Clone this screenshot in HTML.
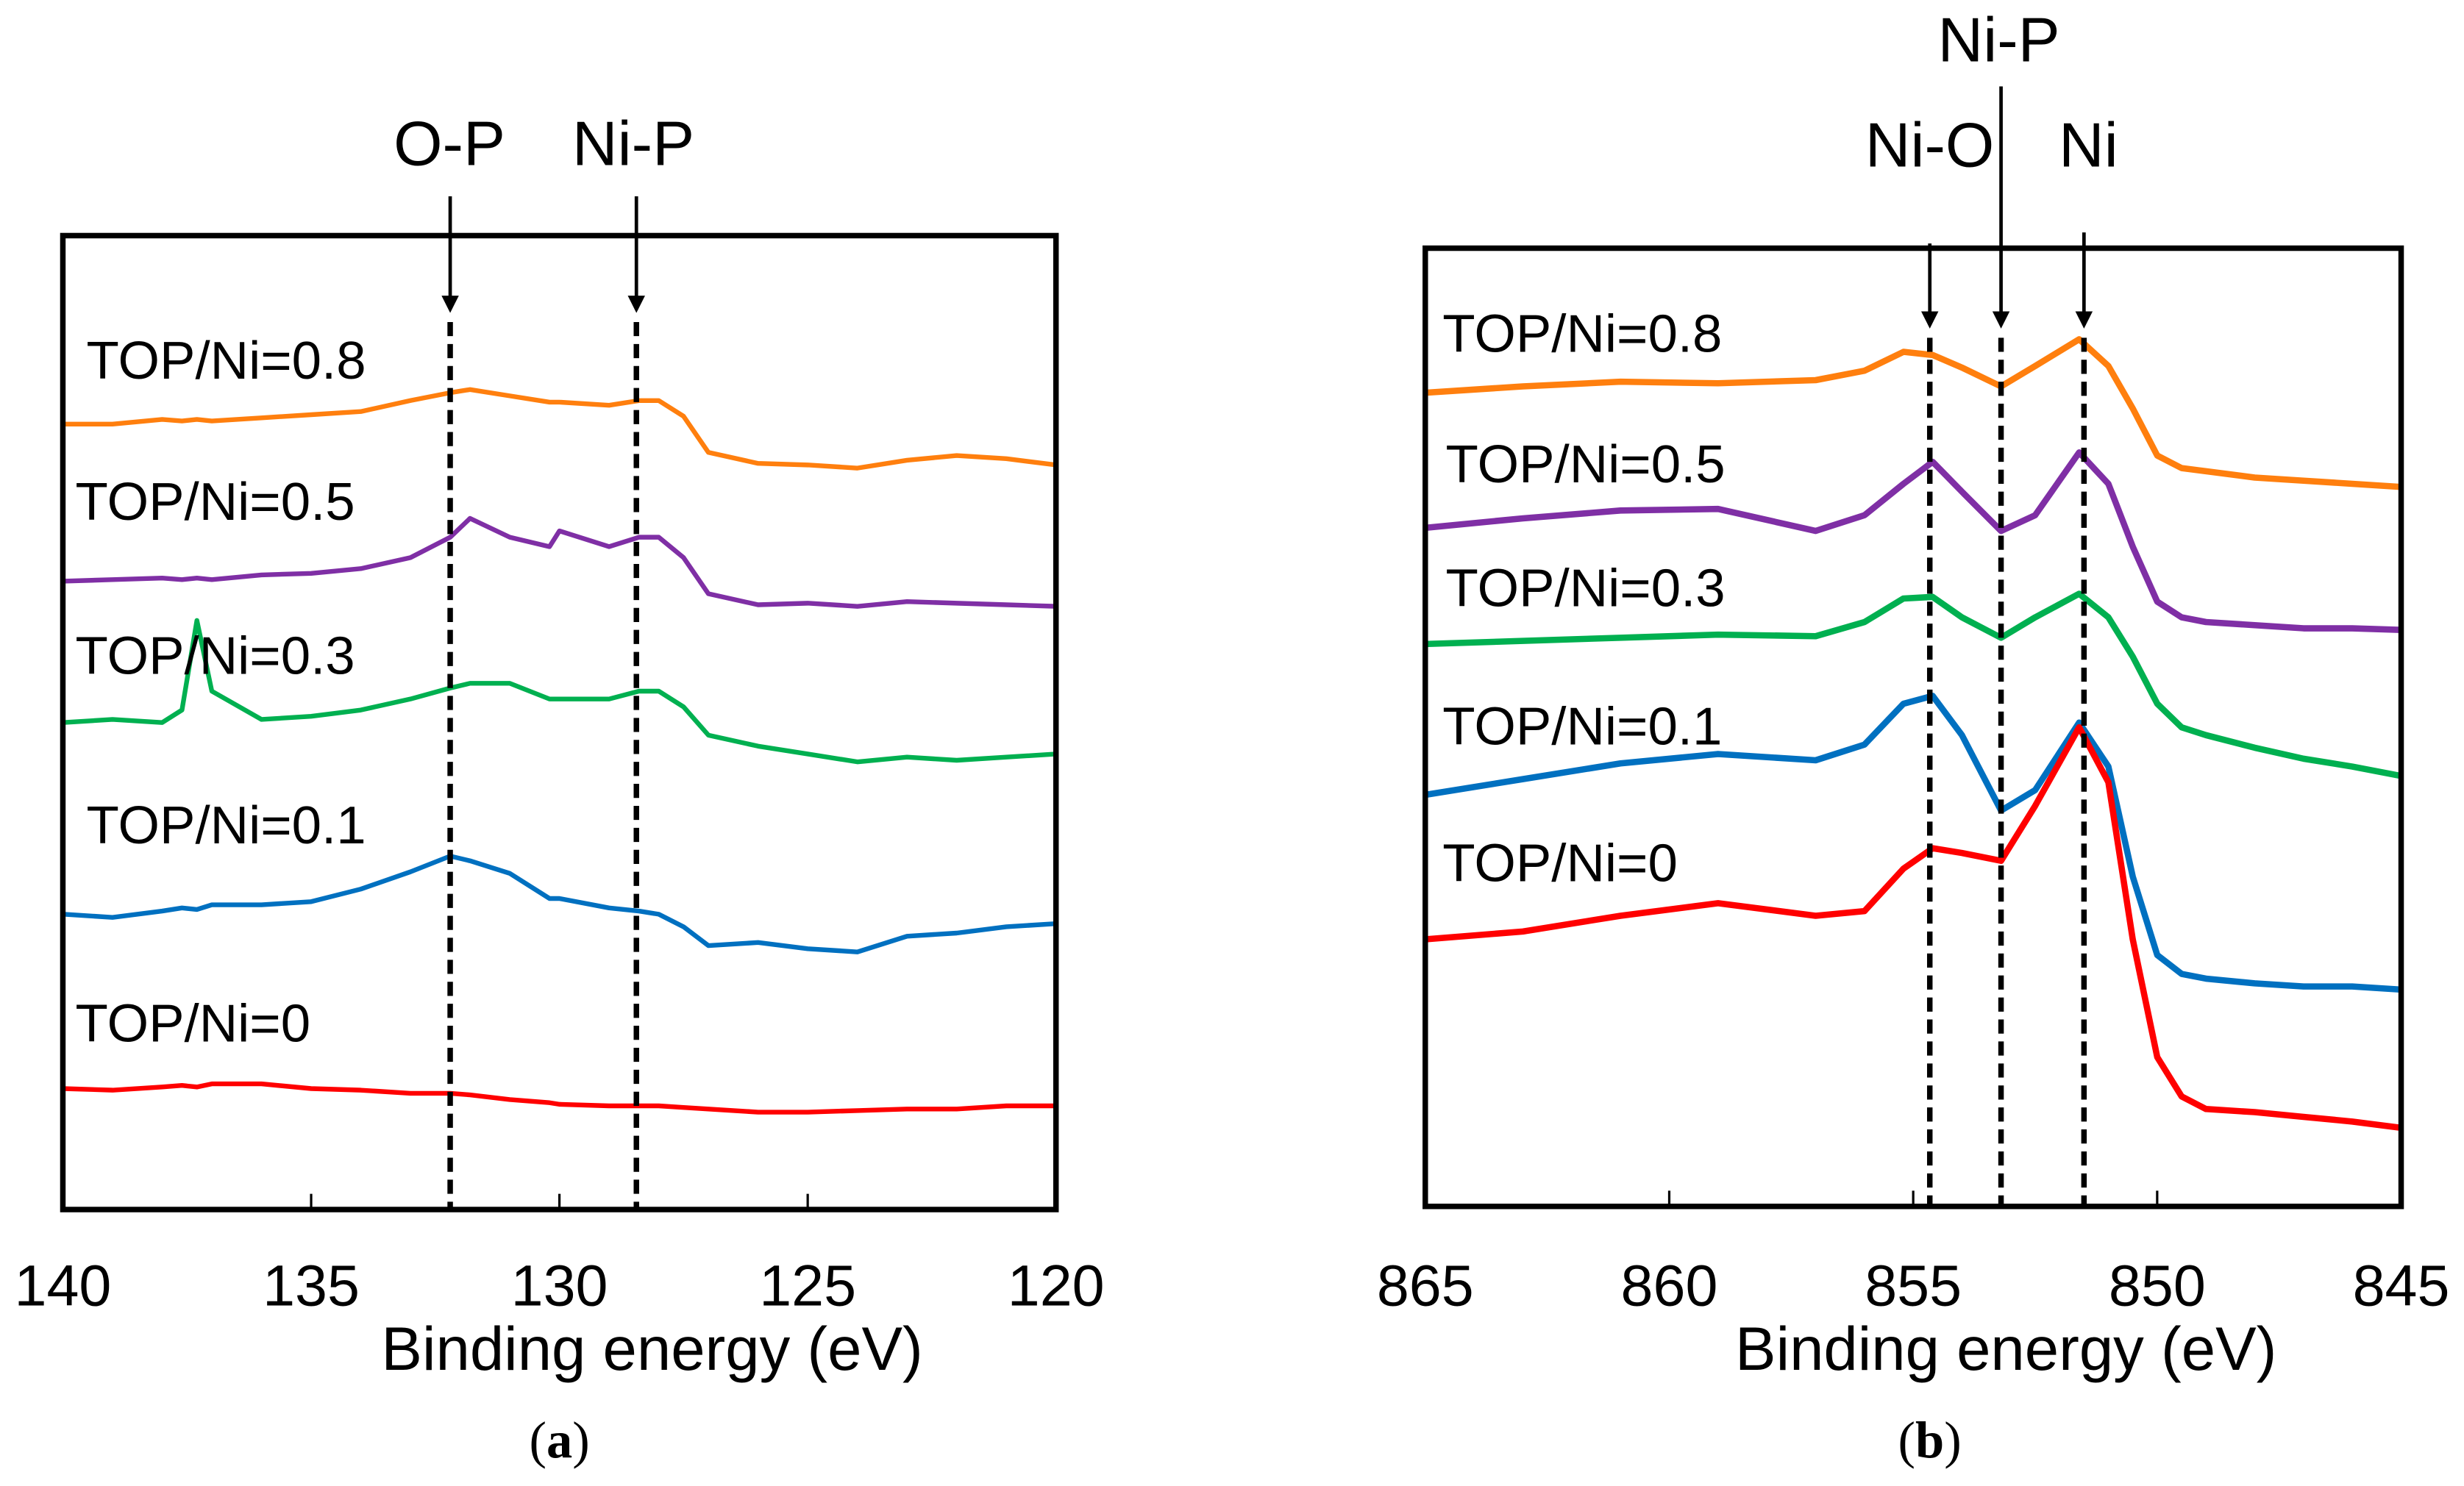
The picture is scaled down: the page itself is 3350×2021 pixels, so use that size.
<!DOCTYPE html>
<html><head><meta charset="utf-8"><style>
html,body{margin:0;padding:0;background:#fff;}
svg{display:block;}
text{font-family:"Liberation Sans",sans-serif;fill:#000;}
</style></head>
<body>
<svg id="fig" width="3350" height="2021" viewBox="0 0 1568 946" preserveAspectRatio="none" xmlns="http://www.w3.org/2000/svg">
<defs><marker id="ah" markerWidth="5" markerHeight="5" refX="4" refY="2.5" orient="auto" markerUnits="strokeWidth"><path d="M0,0 L5,2.5 L0,5 z" fill="#000"/></marker></defs>
<g id="pa"></g>
<g id="pb"></g>
</svg>
<script>
// Panel (a) P 2p
const energiesA = [140,139,138,137.6,137.3,137.0,136,135,134,133,132.2,131.8,131,130.2,130,129,128.4,128,127.5,127,126,125,124,123,122,121,120];
const orangeA = [500,500,503,502,503,502,504,506,508,515,520,522,518,514,514,512,515,515,505,482,475,474,472,477,480,478,474];
const purpleA = [400,401,402,401,402,401,404,405,408,415,428,440,428,422,432,422,428,428,415,392,385,386,384,387,386,385,384];
const greenA  = [310,312,310,318,375,330,312,314,318,325,332,335,335,325,325,325,330,330,320,302,295,290,285,288,286,288,290];
const blueA   = [188,186,190,192,191,194,194,196,204,215,225,222,214,198,198,192,190,188,180,168,170,166,164,174,176,180,182];
const redA    = [77,76,78,79,78,80,80,77,76,74,74,73,70,68,67,66,66,66,65,64,62,62,63,64,64,66,66];
const ticksA = [140,135,130,125,120];
const seriesLabelsA = ["TOP/Ni=0.8","TOP/Ni=0.5","TOP/Ni=0.3","TOP/Ni=0.1","TOP/Ni=0"];
const markersA = ["O-P","Ni-P"];
const markerEA = [132.2,128.45];

// Panel (b) Ni 2p
const energiesB = [865,863,861,859,857,856,855.2,854.6,854,853.2,852.5,851.6,851,850.5,850,849.5,849,848,847,846,845];
const orangeB = [518,522,525,524,526,532,544,542,534,522,535,552,535,508,478,470,468,464,462,460,458];
const purpleB = [432,438,443,444,430,440,460,474,455,430,440,480,460,420,385,375,372,370,368,368,367];
const greenB  = [358,360,362,364,363,372,387,388,375,362,375,390,375,350,320,305,300,292,285,280,274];
const blueB   = [262,272,282,288,284,294,320,325,300,252,265,308,280,210,160,148,145,142,140,140,138];
const redB    = [170,175,185,193,185,188,215,228,225,220,255,305,270,170,95,70,62,60,57,54,50];
const ticksB = [865,860,855,850,845];
const seriesLabelsB = ["TOP/Ni=0.8","TOP/Ni=0.5","TOP/Ni=0.3","TOP/Ni=0.1","TOP/Ni=0"];
const markersB = ["Ni-O","Ni-P","Ni"];
const markerEB = [854.66,853.2,851.5];

const colors = ["#ff7f0e","#7f2fa5","#00b050","#0070c0","#ff0000"];
const NS = "http://www.w3.org/2000/svg";
function mk(parent, tag, attrs, txt){const e=document.createElementNS(NS,tag);for(const k in attrs)e.setAttribute(k,attrs[k]);if(txt!==undefined)e.textContent=txt;parent.appendChild(e);return e;}

function panel(g, cfg){
  const {x0,x1,y0,y1,emax,emin} = cfg;
  const xs = e => x0 + (emax - e)/(emax-emin)*(x1-x0);
  const ys = v => y1 - v;
  cfg.series.forEach((vals,i)=>{
    const pts = cfg.energies.map((e,j)=>xs(e).toFixed(1)+","+ys(vals[j]).toFixed(1)).join(" ");
    const p = mk(g,"polyline",{points:pts,fill:"none",stroke:colors[i],"stroke-width":cfg.sw,"stroke-linejoin":"round"});
    
    
  });
  cfg.markers.forEach((m,i)=>{
    const x = xs(cfg.markerE[i]);
    const d = mk(g,"line",{x1:x,y1:cfg.dashTop,x2:x,y2:y1,stroke:"#000","stroke-width":3.5,"stroke-dasharray":"9,5"});
    
    
    const a = mk(g,"line",{x1:x,y1:cfg.arrowTop[i],x2:x,y2:cfg.dashTop-8,stroke:"#000","stroke-width":2.2,"marker-end":"url(#ah)"});
    
    
    const t = mk(g,"text",{x:cfg.labelX[i],y:cfg.labelY[i],"font-size":40,"text-anchor":"middle"},m);
    
    
  });
  const r = mk(g,"rect",{x:x0,y:y0,width:x1-x0,height:y1-y0,fill:"none",stroke:"#000","stroke-width":3.5});
  
  
  cfg.ticks.forEach(tv=>{
    const x = xs(tv);
    const tk = mk(g,"line",{x1:x,y1:y1,x2:x,y2:y1-10,stroke:"#000","stroke-width":1.5});
    
    
    const tl = mk(g,"text",{x:x,y:831,"font-size":37,"text-anchor":"middle"},String(tv));
    
    
  });
  const at = mk(g,"text",{x:(x0+x1)/2+cfg.titleDx,y:872,"font-size":39,"text-anchor":"middle"},"Binding energy (eV)");
  
  
  const cap = mk(g,"text",{x:cfg.capX,y:928,"font-size":33,"text-anchor":"middle","style":"font-family:'Liberation Serif',serif"},"");
  
  
  mk(cap,"tspan",{},"(");
  mk(cap,"tspan",{"font-weight":"bold"},cfg.cap);
  mk(cap,"tspan",{},")");
  cfg.labels.forEach((l,i)=>{
    const t = mk(g,"text",{x:cfg.lx[i],y:cfg.ly[i],"font-size":34},l);
    
    
  });
}

panel(document.getElementById("pa"),{
  x0:40,x1:672,y0:150,y1:770,emax:140,emin:120,sw:3,
  energies:energiesA,series:[orangeA,purpleA,greenA,blueA,redA],
  ticks:ticksA,labels:seriesLabelsA,markers:markersA,markerE:markerEA,
  dashTop:205,arrowTop:[125,125],labelX:[286,403],labelY:[105,105],
  lx:[55,48,48,55,48],ly:[241,331,429,537,663],titleDx:59,capX:356,cap:"a"
});
panel(document.getElementById("pb"),{
  x0:907,x1:1528,y0:158,y1:768,emax:865,emin:845,sw:4,
  energies:energiesB,series:[orangeB,purpleB,greenB,blueB,redB],
  ticks:ticksB,labels:seriesLabelsB,markers:markersB,markerE:markerEB,
  dashTop:215,arrowTop:[155,55,148],labelX:[1228,1272,1329],labelY:[106,39,106],
  lx:[918,920,920,918,918],ly:[224,307,386,474,561],titleDx:59,capX:1228,cap:"b"
});
</script>
</body></html>
